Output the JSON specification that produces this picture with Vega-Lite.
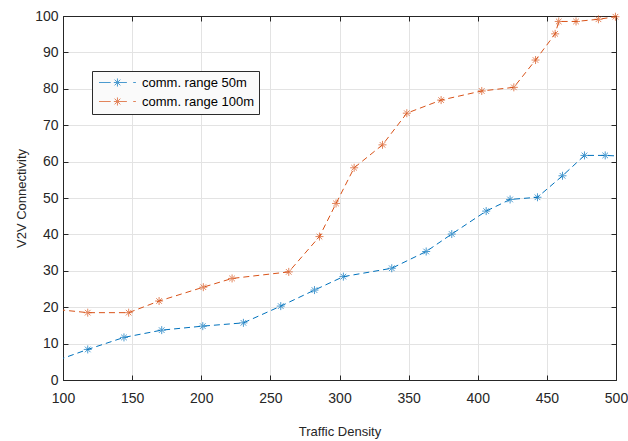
{
  "$schema": "https://vega.github.io/schema/vega-lite/v6.json",
  "width": 553,
  "height": 364,
  "autosize": {"type": "none"},
  "padding": {"left": 63, "top": 16, "right": 12, "bottom": 61},
  "background": "white",
  "config": {
    "view": {"stroke": "#262626", "strokeWidth": 1},
    "font": "Liberation Sans",
    "axis": {
      "labelFont": "Liberation Sans",
      "titleFont": "Liberation Sans",
      "labelColor": "#262626",
      "titleColor": "#262626",
      "domainColor": "#262626",
      "tickColor": "#262626",
      "labelFontSize": 14,
      "titleFontSize": 13,
      "titleFontWeight": "normal",
      "tickSize": -5,
      "labelFlush": false,
      "gridColor": "#E3E3E3",
      "gridWidth": 1
    }
  },
  "data": {
    "values": [
      {"density": 90, "conn": 4.6, "series": "comm. range 50m"},
      {"density": 117.9, "conn": 8.4, "series": "comm. range 50m"},
      {"density": 144.1, "conn": 11.7, "series": "comm. range 50m"},
      {"density": 171.4, "conn": 13.7, "series": "comm. range 50m"},
      {"density": 201.1, "conn": 14.8, "series": "comm. range 50m"},
      {"density": 230.5, "conn": 15.7, "series": "comm. range 50m"},
      {"density": 257.5, "conn": 20.3, "series": "comm. range 50m"},
      {"density": 281.9, "conn": 24.7, "series": "comm. range 50m"},
      {"density": 302.8, "conn": 28.4, "series": "comm. range 50m"},
      {"density": 337.8, "conn": 30.7, "series": "comm. range 50m"},
      {"density": 362.7, "conn": 35.3, "series": "comm. range 50m"},
      {"density": 381.2, "conn": 40.1, "series": "comm. range 50m"},
      {"density": 406.1, "conn": 46.4, "series": "comm. range 50m"},
      {"density": 423.4, "conn": 49.6, "series": "comm. range 50m"},
      {"density": 443.2, "conn": 50.2, "series": "comm. range 50m"},
      {"density": 461.3, "conn": 56.1, "series": "comm. range 50m"},
      {"density": 477.2, "conn": 61.7, "series": "comm. range 50m"},
      {"density": 492.2, "conn": 61.7, "series": "comm. range 50m"},
      {"density": 510, "conn": 61.4, "series": "comm. range 50m"},
      {"density": 90, "conn": 19.6, "series": "comm. range 100m"},
      {"density": 117.9, "conn": 18.5, "series": "comm. range 100m"},
      {"density": 147.5, "conn": 18.5, "series": "comm. range 100m"},
      {"density": 169.5, "conn": 21.7, "series": "comm. range 100m"},
      {"density": 201.5, "conn": 25.5, "series": "comm. range 100m"},
      {"density": 222.3, "conn": 27.9, "series": "comm. range 100m"},
      {"density": 263.3, "conn": 29.7, "series": "comm. range 100m"},
      {"density": 285.5, "conn": 39.4, "series": "comm. range 100m"},
      {"density": 297.5, "conn": 48.5, "series": "comm. range 100m"},
      {"density": 310.6, "conn": 58.3, "series": "comm. range 100m"},
      {"density": 331.1, "conn": 64.6, "series": "comm. range 100m"},
      {"density": 348.7, "conn": 73.3, "series": "comm. range 100m"},
      {"density": 373.5, "conn": 76.9, "series": "comm. range 100m"},
      {"density": 402.9, "conn": 79.4, "series": "comm. range 100m"},
      {"density": 426.1, "conn": 80.4, "series": "comm. range 100m"},
      {"density": 441.8, "conn": 87.9, "series": "comm. range 100m"},
      {"density": 456.0, "conn": 95.1, "series": "comm. range 100m"},
      {"density": 458.6, "conn": 98.5, "series": "comm. range 100m"},
      {"density": 471.1, "conn": 98.5, "series": "comm. range 100m"},
      {"density": 487.3, "conn": 99.1, "series": "comm. range 100m"},
      {"density": 499.6, "conn": 99.8, "series": "comm. range 100m"}
    ]
  },
  "resolve": {"axis": {"x": "independent", "y": "independent"}},
  "layer": [
    {
      "mark": {"type": "line", "clip": true, "strokeDash": [6, 4], "strokeWidth": 1},
      "encoding": {
        "x": {
          "field": "density", "type": "quantitative",
          "scale": {"domain": [100, 500], "nice": false, "zero": false},
          "axis": {"values": [100, 150, 200, 250, 300, 350, 400, 450, 500], "title": "Traffic Density", "labelPadding": 16, "titlePadding": 20, "grid": true}
        },
        "y": {
          "field": "conn", "type": "quantitative",
          "scale": {"domain": [0, 100], "nice": false},
          "axis": {"values": [0, 10, 20, 30, 40, 50, 60, 70, 80, 90, 100], "title": "V2V Connectivity", "labelPadding": 10, "titlePadding": 6, "grid": true}
        },
        "color": {
          "field": "series", "type": "nominal",
          "sort": ["comm. range 50m", "comm. range 100m"],
          "scale": {"domain": ["comm. range 50m", "comm. range 100m"], "range": ["#0072BD", "#D95319"]},
          "legend": {
            "title": null,
            "orient": "none",
            "legendX": 29,
            "legendY": 55,
            "symbolType": "M-1,0L1.6,0M2.3,0L5.2,0M6.6,0L7.2,0M3.1,-0.9L3.1,0.9M2.46,-0.64L3.74,0.64M2.46,0.64L3.74,-0.64",
            "symbolSize": 81,
            "symbolStrokeWidth": 1,
            "symbolFillColor": "transparent",
            "labelOffset": 32,
            "labelFont": "Liberation Sans",
            "labelFontSize": 13,
            "labelColor": "#000000",
            "rowPadding": 5,
            "padding": 5,
            "fillColor": "#FAFAFA",
            "strokeColor": "#2B2B2B"
          }
        }
      }
    },
    {
      "transform": [{"filter": "datum.density >= 100 && datum.density <= 500"}],
      "mark": {"type": "point", "filled": false, "strokeWidth": 1, "size": 64, "shape": "M-1,0L1,0M0,-1L0,1M-0.7,-0.7L0.7,0.7M-0.7,0.7L0.7,-0.7"},
      "encoding": {
        "x": {
          "field": "density", "type": "quantitative",
          "scale": {"domain": [100, 500], "nice": false, "zero": false},
          "axis": {"orient": "top", "values": [100, 150, 200, 250, 300, 350, 400, 450, 500], "labels": false, "title": null, "grid": false}
        },
        "y": {
          "field": "conn", "type": "quantitative",
          "scale": {"domain": [0, 100], "nice": false},
          "axis": {"orient": "right", "values": [0, 10, 20, 30, 40, 50, 60, 70, 80, 90, 100], "labels": false, "title": null, "grid": false}
        },
        "color": {"field": "series", "type": "nominal", "sort": ["comm. range 50m", "comm. range 100m"]}
      }
    }
  ]
}
